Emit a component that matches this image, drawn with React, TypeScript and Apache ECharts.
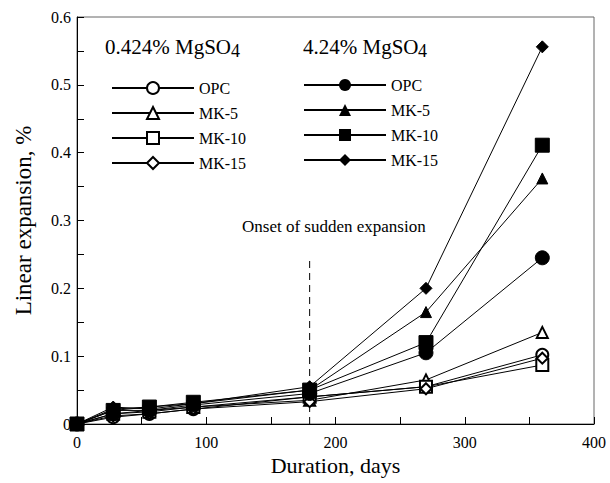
import React, { useEffect, useRef } from "react";
import * as echarts from "echarts";

const days = [0, 28, 56, 90, 180, 270, 360];
const seriesNames = ["OPC", "MK-5", "MK-10", "MK-15"];
const lowOPC = [0, 0.01, 0.015, 0.022, 0.04, 0.055, 0.102];
const lowMK5 = [0, 0.02, 0.02, 0.025, 0.035, 0.065, 0.135];
const lowMK10 = [0, 0.015, 0.018, 0.025, 0.04, 0.055, 0.087];
const lowMK15 = [0, 0.012, 0.015, 0.022, 0.033, 0.052, 0.097];
const highOPC = [0, 0.015, 0.02, 0.028, 0.045, 0.105, 0.245];
const highMK5 = [0, 0.022, 0.025, 0.03, 0.05, 0.165, 0.362];
const highMK10 = [0, 0.02, 0.025, 0.032, 0.05, 0.12, 0.411];
const highMK15 = [0, 0.025, 0.022, 0.03, 0.055, 0.2, 0.556];
const onsetLine = [[180, 0], [180, 0.245]];

const FONT = "'Liberation Serif', 'Times New Roman', serif";

export default function App() {
  const ref = useRef<HTMLDivElement>(null);
  useEffect(() => {
    const chart = echarts.init(ref.current!, null, { renderer: "svg" });
    const lowData = [lowOPC, lowMK5, lowMK10, lowMK15];
    const highData = [highOPC, highMK5, highMK10, highMK15];
    const openSymbols = ["emptyCircle", "emptyTriangle", "emptyRect", "emptyDiamond"];
    const fillSymbols = ["circle", "triangle", "rect", "diamond"];
    const openSizes = [12, 11, 12, 11];
    const fillSizes = [14, 11, 14, 12];
    const mk = (vals: number[]) => vals.map((v, i) => [days[i], v]);
    const series: any[] = [];
    lowData.forEach((d, i) => {
      series.push({
        name: seriesNames[i] + " ",
        type: "line",
        data: mk(d),
        symbol: openSymbols[i],
        symbolSize: openSizes[i],
        lineStyle: { color: "#000", width: 1 },
        itemStyle: { color: "#000", borderColor: "#000", borderWidth: 1.3 },
        z: 3,
      });
    });
    highData.forEach((d, i) => {
      series.push({
        name: seriesNames[i],
        type: "line",
        data: mk(d),
        symbol: fillSymbols[i],
        symbolSize: fillSizes[i],
        lineStyle: { color: "#000", width: 1 },
        itemStyle: { color: "#000", borderColor: "#000" },
        z: 4,
      });
    });
    series.push({
      name: "onset",
      type: "line",
      data: onsetLine,
      symbol: "none",
      lineStyle: { color: "#000", width: 1, type: [7, 5] },
      z: 2,
    });
    const legendCommon = {
      orient: "vertical",
      itemWidth: 82,
      itemHeight: 15,
      itemGap: 9,
      textStyle: { fontFamily: FONT, fontSize: 16, color: "#000" },
      selectedMode: false,
    };
    chart.setOption({
      animation: false,
      backgroundColor: "#fff",
      textStyle: { fontFamily: FONT, color: "#000" },
      grid: { left: 77, right: 16, top: 17, bottom: 59, show: true, borderColor: "#666", borderWidth: 1, backgroundColor: "transparent" },
      xAxis: {
        type: "value",
        min: 0,
        max: 400,
        interval: 100,
        name: "Duration, days",
        nameLocation: "middle",
        nameGap: 24,
        nameTextStyle: { fontFamily: FONT, fontSize: 22, color: "#000" },
        axisLine: { lineStyle: { color: "#000" } },
        axisTick: { inside: true, length: 7, lineStyle: { color: "#000" } },
        minorTick: { show: true, splitNumber: 2, length: 7, lineStyle: { color: "#000" } },
        splitLine: { show: false },
        axisLabel: { fontFamily: FONT, fontSize: 16, color: "#000", margin: 10 },
      },
      yAxis: {
        type: "value",
        min: 0,
        max: 0.6,
        interval: 0.1,
        name: "Linear expansion, %",
        nameLocation: "middle",
        nameGap: 42,
        nameTextStyle: { fontFamily: FONT, fontSize: 23, color: "#000" },
        axisLine: { show: true, lineStyle: { color: "#000" } },
        axisTick: { inside: true, length: 7, lineStyle: { color: "#000" } },
        minorTick: { show: true, splitNumber: 2, length: 7, lineStyle: { color: "#000" } },
        splitLine: { show: false },
        axisLabel: { fontFamily: FONT, fontSize: 16, color: "#000", margin: 6, formatter: (v: number) => (v === 0 ? "0" : String(+v.toFixed(1))) },
      },
      legend: [
        { ...legendCommon, left: 106, top: 75, data: seriesNames.map((n) => n + " ") },
        { ...legendCommon, left: 298, top: 72, data: seriesNames },
      ],
      graphic: [
        { type: "text", left: 105, top: 36, style: { text: "0.424% MgSO", fontFamily: FONT, fontSize: 21, fill: "#000" } },
        { type: "text", left: 231, top: 42, style: { text: "4", fontFamily: FONT, fontSize: 18, fill: "#000" } },
        { type: "text", left: 303, top: 36, style: { text: "4.24% MgSO", fontFamily: FONT, fontSize: 21, fill: "#000" } },
        { type: "text", left: 418, top: 42, style: { text: "4", fontFamily: FONT, fontSize: 18, fill: "#000" } },
        { type: "text", left: 242, top: 218, style: { text: "Onset of sudden expansion", fontFamily: FONT, fontSize: 17, fill: "#000" } },
      ],
      series,
    });
    return () => chart.dispose();
  }, []);
  return <div ref={ref} style={{ width: 610, height: 483, position: "absolute", left: 0, top: 0 }} />;
}
